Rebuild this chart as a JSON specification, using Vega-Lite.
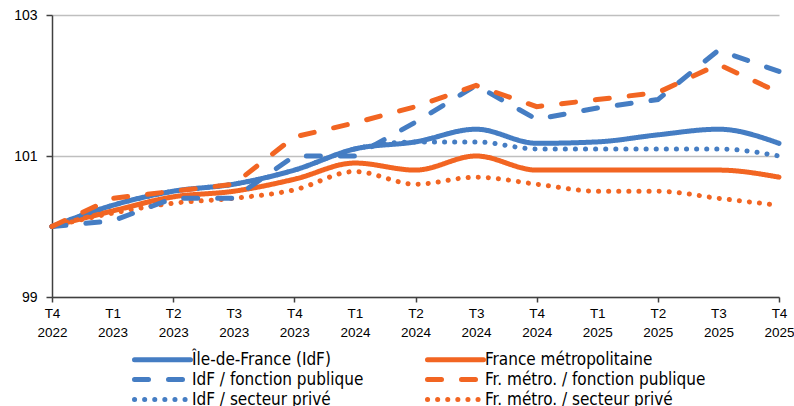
{
  "$schema": "https://vega.github.io/schema/vega-lite/v6.json",
  "width": 727,
  "height": 282,
  "autosize": {"type": "none"},
  "padding": {"left": 52, "top": 15, "right": 15, "bottom": 109},
  "background": "white",
  "config": {
    "view": {"stroke": null},
    "font": "DejaVu Sans Condensed, Liberation Sans, sans-serif",
    "legend": {
      "orient": "none",
      "direction": "horizontal",
      "legendX": 80,
      "legendY": 335,
      "columns": 2,
      "columnPadding": 53,
      "rowPadding": -4,
      "padding": 0,
      "symbolType": "M-1,0H7",
      "symbolSize": 196,
      "labelFont": "DejaVu Sans Condensed, Liberation Sans, sans-serif",
      "labelFontSize": 17,
      "labelFontWeight": "normal",
      "labelColor": "#000000",
      "labelOffset": 41,
      "labelLimit": 400
    }
  },
  "data": {
    "values": [
      {"periode": "T4 2022", "serie": "Île-de-France (IdF)", "valeur": 100.0},
      {"periode": "T1 2023", "serie": "Île-de-France (IdF)", "valeur": 100.3},
      {"periode": "T2 2023", "serie": "Île-de-France (IdF)", "valeur": 100.5},
      {"periode": "T3 2023", "serie": "Île-de-France (IdF)", "valeur": 100.6},
      {"periode": "T4 2023", "serie": "Île-de-France (IdF)", "valeur": 100.8},
      {"periode": "T1 2024", "serie": "Île-de-France (IdF)", "valeur": 101.1},
      {"periode": "T2 2024", "serie": "Île-de-France (IdF)", "valeur": 101.2},
      {"periode": "T3 2024", "serie": "Île-de-France (IdF)", "valeur": 101.38},
      {"periode": "T4 2024", "serie": "Île-de-France (IdF)", "valeur": 101.18},
      {"periode": "T1 2025", "serie": "Île-de-France (IdF)", "valeur": 101.2},
      {"periode": "T2 2025", "serie": "Île-de-France (IdF)", "valeur": 101.3},
      {"periode": "T3 2025", "serie": "Île-de-France (IdF)", "valeur": 101.38},
      {"periode": "T4 2025", "serie": "Île-de-France (IdF)", "valeur": 101.18},
      {"periode": "T4 2022", "serie": "France métropolitaine", "valeur": 100.0},
      {"periode": "T1 2023", "serie": "France métropolitaine", "valeur": 100.22},
      {"periode": "T2 2023", "serie": "France métropolitaine", "valeur": 100.42},
      {"periode": "T3 2023", "serie": "France métropolitaine", "valeur": 100.5},
      {"periode": "T4 2023", "serie": "France métropolitaine", "valeur": 100.67},
      {"periode": "T1 2024", "serie": "France métropolitaine", "valeur": 100.9},
      {"periode": "T2 2024", "serie": "France métropolitaine", "valeur": 100.8},
      {"periode": "T3 2024", "serie": "France métropolitaine", "valeur": 101.0},
      {"periode": "T4 2024", "serie": "France métropolitaine", "valeur": 100.8},
      {"periode": "T1 2025", "serie": "France métropolitaine", "valeur": 100.8},
      {"periode": "T2 2025", "serie": "France métropolitaine", "valeur": 100.8},
      {"periode": "T3 2025", "serie": "France métropolitaine", "valeur": 100.8},
      {"periode": "T4 2025", "serie": "France métropolitaine", "valeur": 100.7},
      {"periode": "T4 2022", "serie": "IdF / fonction publique", "valeur": 100.0},
      {"periode": "T1 2023", "serie": "IdF / fonction publique", "valeur": 100.08},
      {"periode": "T2 2023", "serie": "IdF / fonction publique", "valeur": 100.4},
      {"periode": "T3 2023", "serie": "IdF / fonction publique", "valeur": 100.4},
      {"periode": "T4 2023", "serie": "IdF / fonction publique", "valeur": 101.0},
      {"periode": "T1 2024", "serie": "IdF / fonction publique", "valeur": 101.0},
      {"periode": "T2 2024", "serie": "IdF / fonction publique", "valeur": 101.48},
      {"periode": "T3 2024", "serie": "IdF / fonction publique", "valeur": 102.0},
      {"periode": "T4 2024", "serie": "IdF / fonction publique", "valeur": 101.52},
      {"periode": "T1 2025", "serie": "IdF / fonction publique", "valeur": 101.68},
      {"periode": "T2 2025", "serie": "IdF / fonction publique", "valeur": 101.8},
      {"periode": "T3 2025", "serie": "IdF / fonction publique", "valeur": 102.5},
      {"periode": "T4 2025", "serie": "IdF / fonction publique", "valeur": 102.2},
      {"periode": "T4 2022", "serie": "Fr. métro. / fonction publique", "valeur": 100.0},
      {"periode": "T1 2023", "serie": "Fr. métro. / fonction publique", "valeur": 100.4},
      {"periode": "T2 2023", "serie": "Fr. métro. / fonction publique", "valeur": 100.5},
      {"periode": "T3 2023", "serie": "Fr. métro. / fonction publique", "valeur": 100.6},
      {"periode": "T4 2023", "serie": "Fr. métro. / fonction publique", "valeur": 101.27},
      {"periode": "T1 2024", "serie": "Fr. métro. / fonction publique", "valeur": 101.47},
      {"periode": "T2 2024", "serie": "Fr. métro. / fonction publique", "valeur": 101.7},
      {"periode": "T3 2024", "serie": "Fr. métro. / fonction publique", "valeur": 102.0},
      {"periode": "T4 2024", "serie": "Fr. métro. / fonction publique", "valeur": 101.7},
      {"periode": "T1 2025", "serie": "Fr. métro. / fonction publique", "valeur": 101.8},
      {"periode": "T2 2025", "serie": "Fr. métro. / fonction publique", "valeur": 101.9},
      {"periode": "T3 2025", "serie": "Fr. métro. / fonction publique", "valeur": 102.3},
      {"periode": "T4 2025", "serie": "Fr. métro. / fonction publique", "valeur": 101.9},
      {"periode": "T4 2022", "serie": "IdF / secteur privé", "valeur": 100.0},
      {"periode": "T1 2023", "serie": "IdF / secteur privé", "valeur": 100.3},
      {"periode": "T2 2023", "serie": "IdF / secteur privé", "valeur": 100.5},
      {"periode": "T3 2023", "serie": "IdF / secteur privé", "valeur": 100.6},
      {"periode": "T4 2023", "serie": "IdF / secteur privé", "valeur": 100.8},
      {"periode": "T1 2024", "serie": "IdF / secteur privé", "valeur": 101.1},
      {"periode": "T2 2024", "serie": "IdF / secteur privé", "valeur": 101.2},
      {"periode": "T3 2024", "serie": "IdF / secteur privé", "valeur": 101.2},
      {"periode": "T4 2024", "serie": "IdF / secteur privé", "valeur": 101.1},
      {"periode": "T1 2025", "serie": "IdF / secteur privé", "valeur": 101.1},
      {"periode": "T2 2025", "serie": "IdF / secteur privé", "valeur": 101.1},
      {"periode": "T3 2025", "serie": "IdF / secteur privé", "valeur": 101.1},
      {"periode": "T4 2025", "serie": "IdF / secteur privé", "valeur": 101.0},
      {"periode": "T4 2022", "serie": "Fr. métro. / secteur privé", "valeur": 100.0},
      {"periode": "T1 2023", "serie": "Fr. métro. / secteur privé", "valeur": 100.19},
      {"periode": "T2 2023", "serie": "Fr. métro. / secteur privé", "valeur": 100.33},
      {"periode": "T3 2023", "serie": "Fr. métro. / secteur privé", "valeur": 100.4},
      {"periode": "T4 2023", "serie": "Fr. métro. / secteur privé", "valeur": 100.52},
      {"periode": "T1 2024", "serie": "Fr. métro. / secteur privé", "valeur": 100.78},
      {"periode": "T2 2024", "serie": "Fr. métro. / secteur privé", "valeur": 100.6},
      {"periode": "T3 2024", "serie": "Fr. métro. / secteur privé", "valeur": 100.7},
      {"periode": "T4 2024", "serie": "Fr. métro. / secteur privé", "valeur": 100.6},
      {"periode": "T1 2025", "serie": "Fr. métro. / secteur privé", "valeur": 100.5},
      {"periode": "T2 2025", "serie": "Fr. métro. / secteur privé", "valeur": 100.5},
      {"periode": "T3 2025", "serie": "Fr. métro. / secteur privé", "valeur": 100.4},
      {"periode": "T4 2025", "serie": "Fr. métro. / secteur privé", "valeur": 100.3}
    ]
  },
  "encoding": {
    "x": {
      "field": "periode",
      "type": "ordinal",
      "sort": null,
      "scale": {"type": "point", "padding": 0},
      "axis": {
        "title": null,
        "labelAngle": 0,
        "labelExpr": "split(datum.label, ' ')",
        "labelFont": "Liberation Sans, sans-serif",
        "labelFontWeight": "normal",
        "labelLineHeight": 19,
        "labelFontSize": 13.5,
        "labelColor": "#000000",
        "labelPadding": 4,
        "domainColor": "#404040",
        "domainWidth": 1.5,
        "tickColor": "#404040",
        "tickWidth": 1.5,
        "tickSize": 5,
        "tickOpacity": {"condition": {"test": "substring(datum.value, 0, 2) == 'T4' || substring(datum.value, 0, 2) == 'T2'", "value": 1}, "value": 0},
        "grid": false,
        "zindex": 1
      }
    },
    "y": {
      "field": "valeur",
      "type": "quantitative",
      "scale": {"domain": [99, 103], "nice": false, "zero": false},
      "axis": {
        "title": null,
        "values": [99, 101, 103],
        "grid": true,
        "gridColor": "#bfbfbf",
        "gridWidth": 1.5,
        "domainColor": "#404040",
        "domainWidth": 1.5,
        "tickColor": "#404040",
        "tickWidth": 1.5,
        "tickSize": 6,
        "labelFont": "Liberation Sans, sans-serif",
        "labelFontWeight": "normal",
        "labelFontSize": 14,
        "labelColor": "#000000",
        "labelPadding": 9
      }
    },
    "color": {
      "field": "serie",
      "type": "nominal",
      "title": null,
      "scale": {
        "domain": ["Île-de-France (IdF)", "France métropolitaine", "IdF / fonction publique", "Fr. métro. / fonction publique", "IdF / secteur privé", "Fr. métro. / secteur privé"],
        "range": ["#457DC3", "#F26522", "#457DC3", "#F26522", "#457DC3", "#F26522"]
      },
      "legend": {
        "encode": {"symbols": {"update": {"strokeCap": {"value": "round"}}}}
      }
    },
    "strokeDash": {
      "field": "serie",
      "type": "nominal",
      "title": null,
      "scale": {
        "domain": ["Île-de-France (IdF)", "France métropolitaine", "IdF / fonction publique", "Fr. métro. / fonction publique", "IdF / secteur privé", "Fr. métro. / secteur privé"],
        "range": [[1, 0], [1, 0], [14, 20], [14, 20], [0.1, 10], [0.1, 10]]
      }
    },
    "strokeWidth": {
      "field": "serie",
      "type": "nominal",
      "title": null,
      "scale": {
        "domain": ["Île-de-France (IdF)", "France métropolitaine", "IdF / fonction publique", "Fr. métro. / fonction publique", "IdF / secteur privé", "Fr. métro. / secteur privé"],
        "range": [5, 5, 4.5, 4.5, 4, 4]
      }
    }
  },
  "layer": [
    {
      "transform": [{"filter": "indexof(datum.serie, 'fonction publique') < 0"}],
      "mark": {"type": "line", "interpolate": "monotone", "strokeCap": "round"}
    },
    {
      "transform": [{"filter": "indexof(datum.serie, 'fonction publique') >= 0"}],
      "mark": {"type": "line", "interpolate": "linear", "strokeCap": "round"}
    }
  ]
}
